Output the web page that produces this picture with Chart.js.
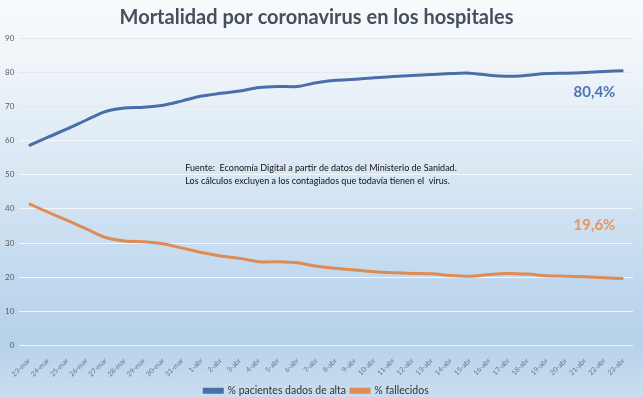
<!DOCTYPE html>
<html>
<head>
<meta charset="utf-8">
<script src="https://cdn.jsdelivr.net/npm/chart.js@4"></script>
<style>
  html, body { margin: 0; padding: 0; }
  body {
    width: 643px; height: 397px; overflow: hidden;
    background: linear-gradient(to bottom, #f8fafc 0%, #f0f5fa 15%, #dae8f4 42%, #c3daef 68%, #b6d1ea 86%, #cadef0 100%);
  }
  #wrap { position: relative; width: 643px; height: 397px; }
</style>
</head>
<body>
<div id="wrap"><canvas id="chart" width="643" height="397"></canvas></div>
<script>
// Data
const days = ['23-mar', '24-mar', '25-mar', '26-mar', '27-mar', '28-mar', '29-mar', '30-mar', '31-mar',
  '1-abr', '2-abr', '3-abr', '4-abr', '5-abr', '6-abr', '7-abr', '8-abr', '9-abr', '10-abr', '11-abr',
  '12-abr', '13-abr', '14-abr', '15-abr', '16-abr', '17-abr', '18-abr', '19-abr', '20-abr', '21-abr',
  '22-abr', '23-abr'];
const altas = [58.5, 61.0, 63.4, 66.0, 68.5, 69.5, 69.7, 70.3, 71.6, 73.0, 73.8, 74.5, 75.5, 75.8, 75.8, 76.9,
  77.6, 77.9, 78.4, 78.7, 79.0, 79.3, 79.6, 79.7, 79.1, 78.8, 79.1, 79.6, 79.7, 79.9, 80.2, 80.4];
const fallecidos = [41.5, 39.0, 36.6, 34.1, 31.6, 30.6, 30.4, 29.8, 28.5, 27.2, 26.2, 25.5, 24.5, 24.5, 24.2, 23.2,
  22.6, 22.1, 21.6, 21.3, 21.1, 21.0, 20.5, 20.3, 20.8, 21.1, 20.9, 20.4, 20.3, 20.1, 19.8, 19.6];
const seriesNames = ['% pacientes dados de alta', '% fallecidos'];
const endLabels = ['80,4%', '19,6%'];
const sourceNote = [
  'Fuente:  Economía Digital a partir de datos del Ministerio de Sanidad.',
  'Los cálculos excluyen a los contagiados que todavía tienen el  virus.'
];

const BLUE = '#4a6ea8';
const ORANGE = '#e08a55';

// Annotations: end-value labels and source note
const notesPlugin = {
  id: 'notes',
  afterDatasetsDraw(chart) {
    const { ctx, scales: { x, y } } = chart;
    const last = days.length - 1;
    ctx.save();
    ctx.font = 'bold 15px Lato, "Open Sans", sans-serif';
    ctx.textAlign = 'right';
    ctx.textBaseline = 'middle';
    ctx.fillStyle = '#4d74b3';
    ctx.fillText(endLabels[0], x.getPixelForValue(last) - 8, y.getPixelForValue(altas[last]) + 21);
    ctx.fillStyle = '#e8945c';
    ctx.fillText(endLabels[1], x.getPixelForValue(last) - 8, y.getPixelForValue(fallecidos[last]) - 53);

    ctx.font = '9px Lato, "Open Sans", sans-serif';
    ctx.textAlign = 'left';
    ctx.fillStyle = '#111';
    const nx = x.getPixelForValue(8) + 3;
    const ny = y.getPixelForValue(50);
    ctx.fillText(sourceNote[0], nx, ny - 7);
    ctx.fillText(sourceNote[1], nx, ny + 6);
    ctx.restore();
  }
};

new Chart(document.getElementById('chart'), {
  type: 'line',
  data: {
    labels: days,
    datasets: [
      {
        label: seriesNames[0],
        data: altas,
        borderColor: BLUE,
        backgroundColor: BLUE,
        borderWidth: 3,
        pointRadius: 0,
        tension: 0.3,
        fill: false
      },
      {
        label: seriesNames[1],
        data: fallecidos,
        borderColor: ORANGE,
        backgroundColor: ORANGE,
        borderWidth: 3,
        pointRadius: 0,
        tension: 0.3,
        fill: false
      }
    ]
  },
  options: {
    responsive: false,
    animation: false,
    layout: { padding: { left: 0, right: 10, top: 0, bottom: -9 } },
    scales: {
      y: {
        min: 0,
        max: 90,
        ticks: {
          stepSize: 10,
          color: '#595959',
          padding: 5,
          font: { family: 'Lato', size: 8 }
        },
        border: { display: false },
        grid: {
          drawTicks: false,
          lineWidth: 1,
          color: (c) => c.tick && c.tick.value >= 70 ? '#e3e8ee' : 'rgba(255,255,255,0.75)'
        }
      },
      x: {
        offset: true,
        afterFit: (scale) => { scale.height = 35; },
        ticks: {
          minRotation: 45,
          maxRotation: 45,
          autoSkip: false,
          color: '#6b7785',
          padding: 3,
          font: { family: 'Lato', size: 7 }
        },
        border: { display: false },
        grid: { display: false }
      }
    },
    plugins: {
      title: {
        display: true,
        text: 'Mortalidad por coronavirus en los hospitales',
        color: '#44505e',
        font: { family: 'Lato', size: 20, weight: 'bold' },
        padding: { top: 6, bottom: 8 }
      },
      legend: {
        position: 'bottom',
        labels: {
          color: '#333',
          boxWidth: 18,
          boxHeight: 3,
          padding: 5,
          font: { family: 'Lato', size: 10.5 }
        }
      },
      tooltip: { enabled: false }
    }
  },
  plugins: [notesPlugin]
});
</script>
</body>
</html>
